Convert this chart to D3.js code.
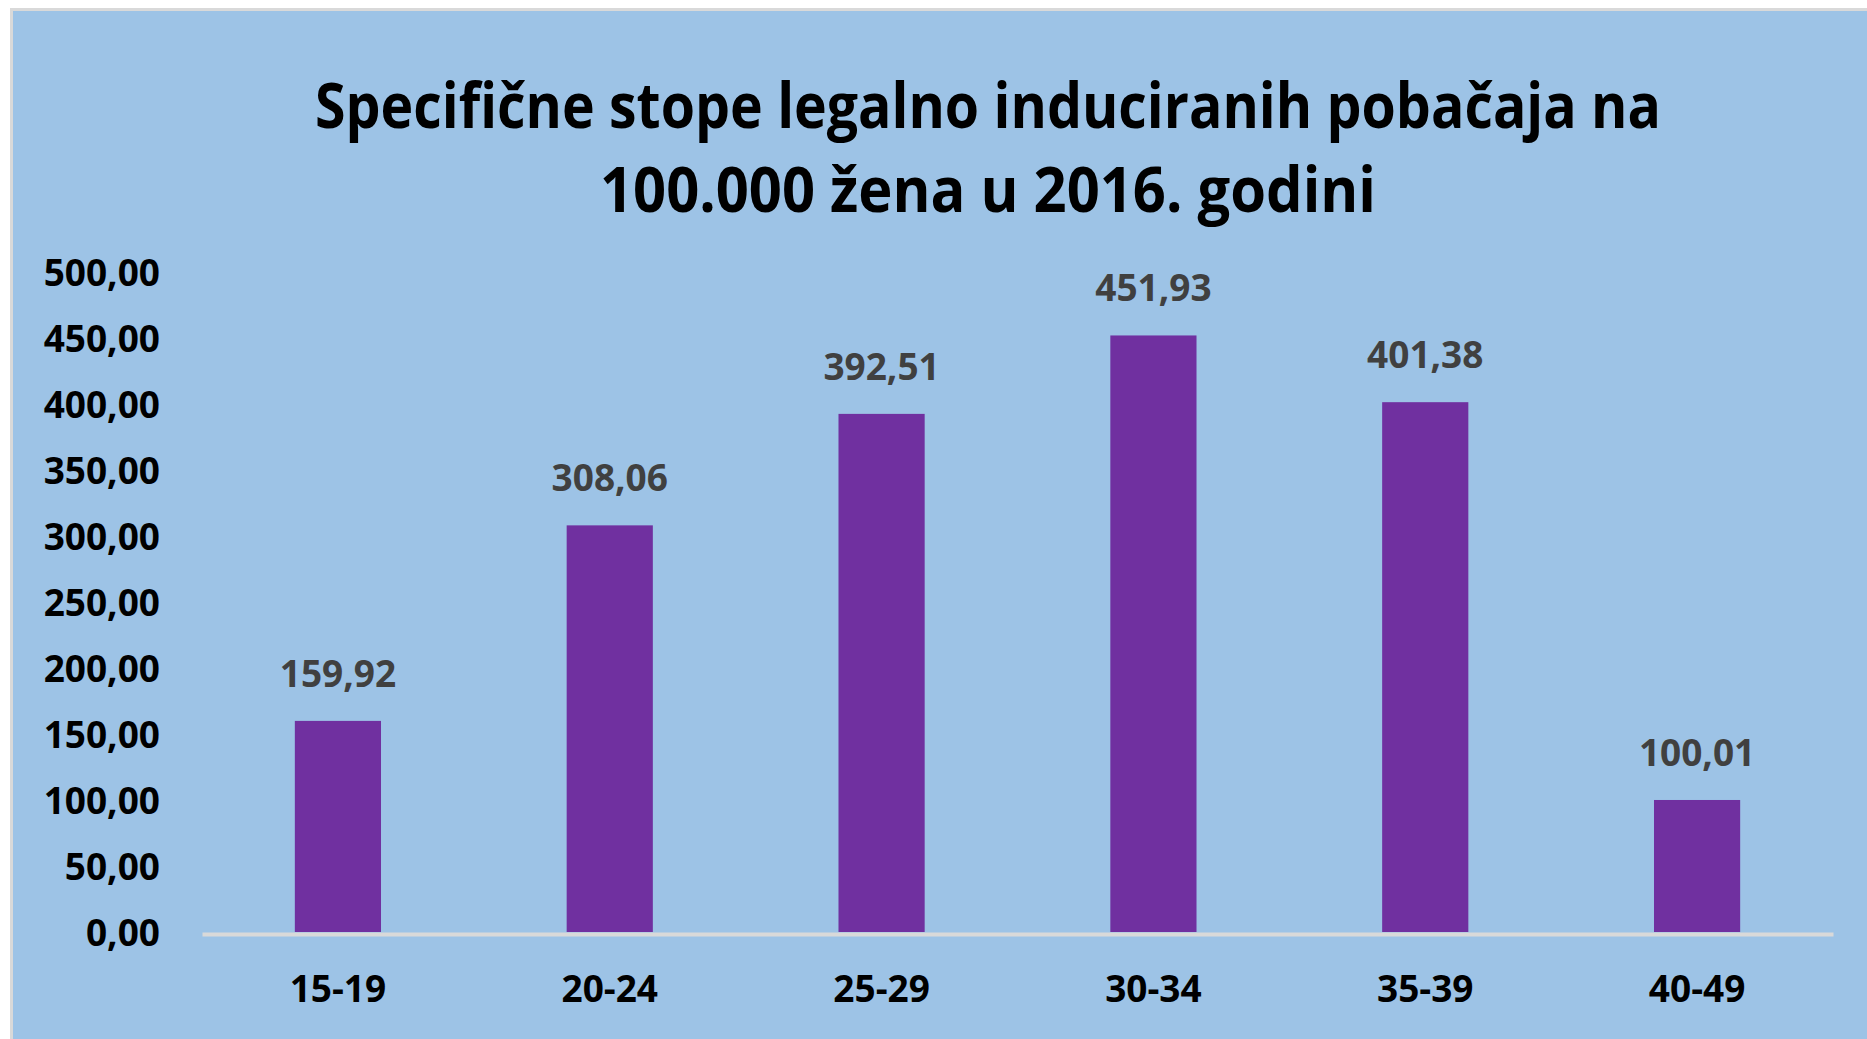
<!DOCTYPE html>
<html>
<head>
<meta charset="utf-8">
<script src="https://cdn.jsdelivr.net/npm/d3@7"></script>
<style>
  body { margin: 0; background: #ffffff; }
  svg text { font-family: "Open Sans", sans-serif; font-weight: bold; }
</style>
</head>
<body>
<div id="chart"></div>
<script>
var svgWidth = 1867;
var svgHeight = 1039;

// data
var categories = ["15-19", "20-24", "25-29", "30-34", "35-39", "40-49"];
var values = [159.92, 308.06, 392.51, 451.93, 401.38, 100.01];
var yTicks = [0, 50, 100, 150, 200, 250, 300, 350, 400, 450, 500];
var titleLines = ["Specifične stope legalno induciranih pobačaja na", "100.000 žena u 2016. godini"];

var svg = d3.select("#chart")
  .append("svg")
  .attr("width", svgWidth)
  .attr("height", svgHeight);

// chart area background + frame
svg.append("rect")
  .attr("x", 10).attr("y", 8)
  .attr("width", svgWidth - 10).attr("height", svgHeight - 8)
  .attr("fill", "#d9d9d9");
svg.append("rect")
  .attr("x", 13).attr("y", 11)
  .attr("width", svgWidth - 13).attr("height", svgHeight - 11)
  .attr("fill", "#9dc3e6");

// title
var titleWidths = [1346, 776];
svg.selectAll("text.title")
  .data(titleLines)
  .enter()
  .append("text")
  .attr("class", "title")
  .attr("x", 988)
  .attr("y", (d, i) => 128 + i * 84)
  .attr("text-anchor", "middle")
  .attr("font-size", 62)
  .attr("fill", "#000000")
  .attr("textLength", (d, i) => titleWidths[i])
  .attr("lengthAdjust", "spacingAndGlyphs")
  .text(d => d);

var xScale = d3.scaleBand()
  .domain(categories)
  .range([202, 1833])
  .paddingInner(0.683)
  .paddingOuter(0.3415);

var yScale = d3.scaleLinear()
  .domain([0, 500])
  .range([932, 272]);

// y axis labels (no line, no ticks)
var leftAxis = d3.axisLeft(yScale)
  .tickValues(yTicks)
  .tickSize(0)
  .tickPadding(0)
  .tickFormat(d => d3.format(".2f")(d).replace(".", ","));

var yAxisG = svg.append("g")
  .attr("transform", "translate(160,0)")
  .call(leftAxis);
yAxisG.select(".domain").remove();
yAxisG.selectAll("text")
  .attr("font-size", 37)
  .attr("fill", "#000000")
  .attr("dy", "0.36em");

// bars
svg.append("g")
  .selectAll("rect")
  .data(values)
  .enter()
  .append("rect")
  .attr("x", (d, i) => xScale(categories[i]))
  .attr("y", d => yScale(d))
  .attr("width", xScale.bandwidth())
  .attr("height", d => yScale(0) - yScale(d))
  .attr("fill", "#7030a0");

// value labels
svg.append("g")
  .selectAll("text")
  .data(values)
  .enter()
  .append("text")
  .attr("x", (d, i) => xScale(categories[i]) + xScale.bandwidth() / 2)
  .attr("y", d => yScale(d) - 34)
  .attr("text-anchor", "middle")
  .attr("font-size", 37)
  .attr("fill", "#404040")
  .text(d => d3.format(".2f")(d).replace(".", ","));

// x axis
var bottomAxis = d3.axisBottom(xScale).tickSize(0).tickPadding(0);
var xAxisG = svg.append("g")
  .attr("transform", "translate(0,934)")
  .call(bottomAxis);
xAxisG.select(".domain")
  .attr("stroke", "#d9d9d9")
  .attr("stroke-width", 4);
xAxisG.selectAll("text")
  .attr("font-size", 37)
  .attr("fill", "#000000")
  .attr("dy", 0)
  .attr("y", 68);
</script>
</body>
</html>
